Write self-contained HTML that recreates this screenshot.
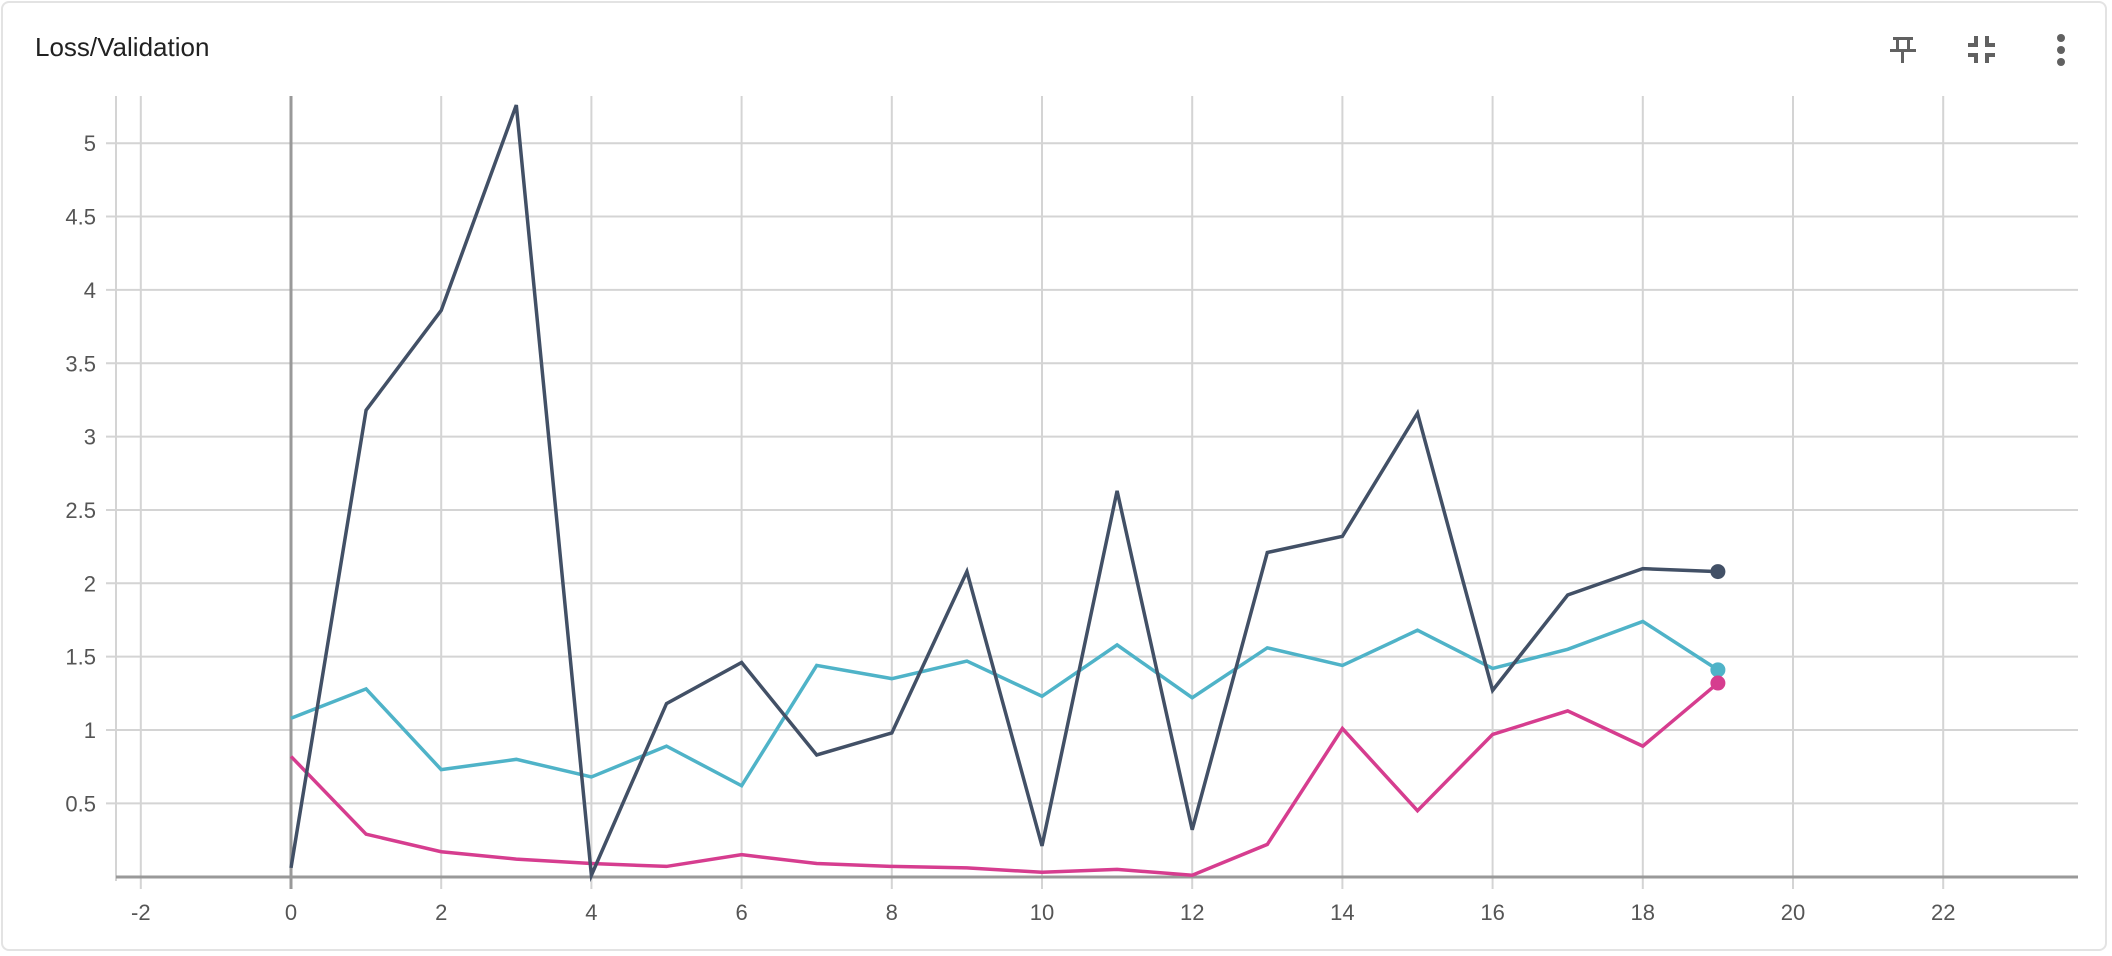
<!DOCTYPE html>
<html><head><meta charset="utf-8"><style>
html,body{margin:0;padding:0;background:#fff;}
body{width:2112px;height:956px;overflow:hidden;font-family:"Liberation Sans",sans-serif;}
#card{position:absolute;left:1px;top:1px;width:2106px;height:950px;border:2px solid #e3e3e3;border-radius:8px;box-sizing:border-box;}
#title{position:absolute;left:35px;top:32px;font-size:26px;color:#212121;}
</style></head><body>
<div id="card"></div>
<div id="title">Loss/Validation</div>
<svg width="2112" height="956" style="position:absolute;left:0;top:0">
<g fill="#616161">
<rect x="1893" y="37" width="20" height="3"/><rect x="1896" y="40" width="3" height="10"/><rect x="1907" y="40" width="3" height="10"/><rect x="1890" y="49" width="26" height="3"/><rect x="1901" y="52" width="3" height="11"/></g>
<g fill="#616161">
<rect x="1974" y="36" width="4" height="10"/><rect x="1968" y="43" width="10" height="4"/><rect x="1985" y="36" width="4" height="10"/><rect x="1985" y="43" width="10" height="4"/>
<rect x="1968" y="53" width="10" height="4"/><rect x="1974" y="53" width="4" height="10"/><rect x="1985" y="53" width="10" height="4"/><rect x="1985" y="53" width="4" height="10"/></g>
<g fill="#616161"><circle cx="2061" cy="38" r="4"/><circle cx="2061" cy="50" r="4"/><circle cx="2061" cy="62" r="4"/></g>
<g id="grid"></g><g id="series"></g>
</svg>
<script>
const steps=[0,1,2,3,4,5,6,7,8,9,10,11,12,13,14,15,16,17,18,19];
const darkValues=[0.06,3.18,3.86,5.26,0.01,1.18,1.46,0.83,0.98,2.08,0.21,2.63,0.32,2.21,2.32,3.16,1.27,1.92,2.10,2.08];
const cyanValues=[1.08,1.28,0.73,0.80,0.68,0.89,0.62,1.44,1.35,1.47,1.23,1.58,1.22,1.56,1.44,1.68,1.42,1.55,1.74,1.41];
const pinkValues=[0.82,0.29,0.17,0.12,0.09,0.07,0.15,0.09,0.07,0.06,0.03,0.05,0.01,0.22,1.01,0.45,0.97,1.13,0.89,1.32];
const xTicks=[-2,0,2,4,6,8,10,12,14,16,18,20,22];
const yTicks=[0.5,1,1.5,2,2.5,3,3.5,4,4.5,5];
const NS='http://www.w3.org/2000/svg';
const X=v=>291+v*75.1;
const Y=v=>876.7-v*146.7;
const L=116,R=2078,T=96,B=877;
function mk(t,a,p){const e=document.createElementNS(NS,t);for(const k in a)e.setAttribute(k,a[k]);p.appendChild(e);return e;}
const g=document.getElementById('grid');
yTicks.forEach(v=>{
 const ln=mk('line',{x1:L-10,x2:R,y1:Y(v),y2:Y(v),stroke:'#d4d4d4','stroke-width':2},g);
 
 
 const t=mk('text',{x:96,y:Y(v)+8,'text-anchor':'end','font-size':22,fill:'#555','font-family':'Liberation Sans, sans-serif'},g);
 t.textContent=String(v);
 
 
});
xTicks.forEach(v=>{
 const ln=mk('line',{x1:X(v),x2:X(v),y1:T,y2:B+12,stroke:v===0?'#999':'#d4d4d4','stroke-width':v===0?3:2},g);
 
 
 const t=mk('text',{x:X(v),y:920,'text-anchor':'middle','font-size':22,fill:'#555','font-family':'Liberation Sans, sans-serif'},g);
 t.textContent=String(v);
 
 
});
const lv=mk('line',{x1:L,x2:L,y1:T,y2:B+4,stroke:'#d4d4d4','stroke-width':2},g);


const ax=mk('line',{x1:L,x2:R,y1:B,y2:B,stroke:'#999','stroke-width':3},g);


const s=document.getElementById('series');
[[cyanValues,'#4fb3c8','cyan'],[pinkValues,'#d63d8f','pink'],[darkValues,'#425066','dark']].forEach(([vals,c,n])=>{
 const p=mk('polyline',{points:vals.map((v,i)=>X(steps[i])+','+Y(v)).join(' '),fill:'none',stroke:c,'stroke-width':3.5,'stroke-linejoin':'miter'},s);
 
 
 const last=vals.length-1;
 const d=mk('circle',{cx:X(steps[last]),cy:Y(vals[last]),r:7.5,fill:c},s);
 
 
});
</script>
</body></html>
